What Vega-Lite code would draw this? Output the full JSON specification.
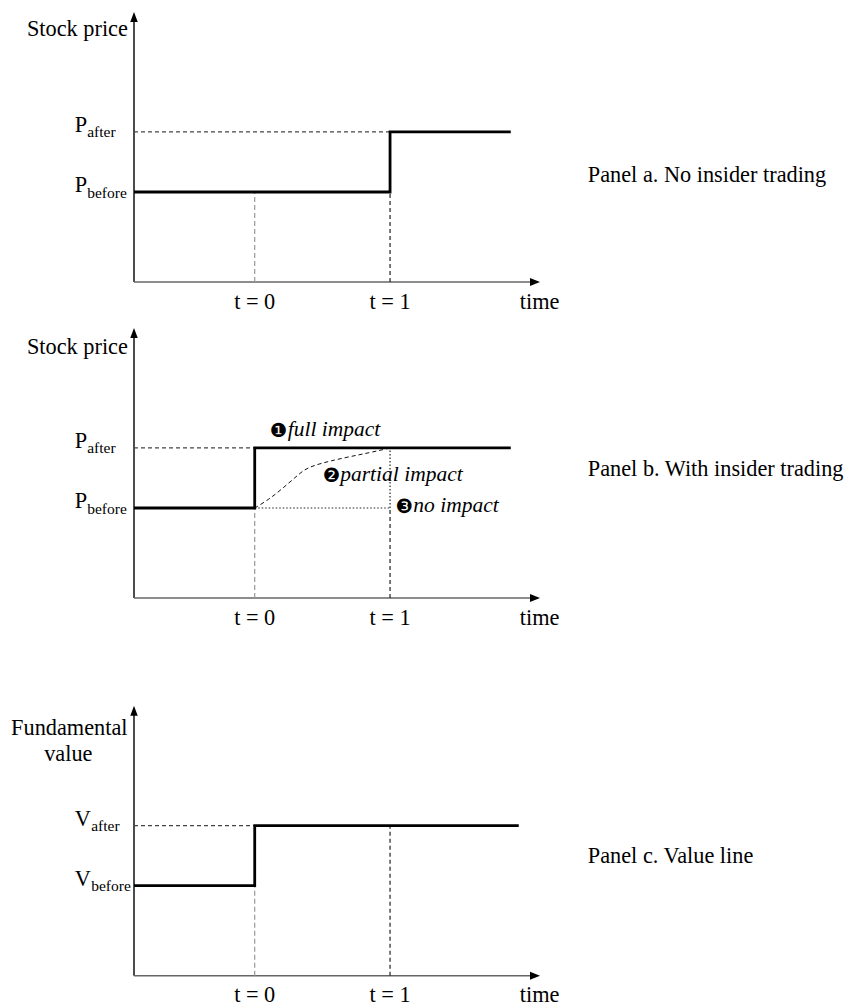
{
  "$schema": "https://vega.github.io/schema/vega-lite/v6.json",
  "background": "white",
  "padding": {"top": 12, "left": 11, "right": 0, "bottom": 0},
  "config": {
    "font": "Liberation Serif",
    "view": {"stroke": null},
    "text": {"font": "Liberation Serif", "fontSize": 22.3, "color": "black"}
  },
  "datasets": {
    "segments": [
      {"panel": "a", "role": "y axis", "x": -0.892, "y": 0, "x2": -0.892, "y2": 2.95},
      {"panel": "a", "role": "x axis", "x": -0.892, "y": 0, "x2": 2.07, "y2": 0},
      {"panel": "a", "role": "level guide", "x": -0.892, "y": 1.667, "x2": 1, "y2": 1.667},
      {"panel": "a", "role": "t0 guide", "x": 0, "y": 0, "x2": 0, "y2": 1},
      {"panel": "a", "role": "t1 guide", "x": 1, "y": 0, "x2": 1, "y2": 1},
      {"panel": "b", "role": "y axis", "x": -0.892, "y": 0, "x2": -0.892, "y2": 2.95},
      {"panel": "b", "role": "x axis", "x": -0.892, "y": 0, "x2": 2.07, "y2": 0},
      {"panel": "b", "role": "level guide", "x": -0.892, "y": 1.667, "x2": 0, "y2": 1.667},
      {"panel": "b", "role": "t0 guide", "x": 0, "y": 0, "x2": 0, "y2": 1},
      {"panel": "b", "role": "t1 guide", "x": 1, "y": 0, "x2": 1, "y2": 1},
      {"panel": "b", "role": "no impact", "x": 1, "y": 1, "x2": 1, "y2": 1.667},
      {"panel": "b", "role": "no impact", "x": 0, "y": 1, "x2": 1, "y2": 1},
      {"panel": "c", "role": "y axis", "x": -0.892, "y": 0, "x2": -0.892, "y2": 2.95},
      {"panel": "c", "role": "x axis", "x": -0.892, "y": 0, "x2": 2.07, "y2": 0},
      {"panel": "c", "role": "level guide", "x": -0.892, "y": 1.667, "x2": 0, "y2": 1.667},
      {"panel": "c", "role": "t0 guide", "x": 0, "y": 0, "x2": 0, "y2": 1},
      {"panel": "c", "role": "t1 guide", "x": 1, "y": 0, "x2": 1, "y2": 1.667}
    ],
    "steps": [
      {"panel": "a", "i": 1, "x": -0.892, "y": 1},
      {"panel": "a", "i": 2, "x": 1, "y": 1},
      {"panel": "a", "i": 3, "x": 1, "y": 1.667},
      {"panel": "a", "i": 4, "x": 1.892, "y": 1.667},
      {"panel": "b", "i": 1, "x": -0.892, "y": 1},
      {"panel": "b", "i": 2, "x": 0, "y": 1},
      {"panel": "b", "i": 3, "x": 0, "y": 1.667},
      {"panel": "b", "i": 4, "x": 1.892, "y": 1.667},
      {"panel": "c", "i": 1, "x": -0.892, "y": 1},
      {"panel": "c", "i": 2, "x": 0, "y": 1},
      {"panel": "c", "i": 3, "x": 0, "y": 1.667},
      {"panel": "c", "i": 4, "x": 1.951, "y": 1.667}
    ],
    "curve": [
      {"x": 0, "y": 1.0},
      {"x": 0.1, "y": 1.09},
      {"x": 0.2, "y": 1.21},
      {"x": 0.3, "y": 1.34},
      {"x": 0.36, "y": 1.42},
      {"x": 0.43, "y": 1.47},
      {"x": 0.55, "y": 1.52},
      {"x": 0.7, "y": 1.57},
      {"x": 0.85, "y": 1.615},
      {"x": 1.0, "y": 1.667}
    ],
    "arrows": [
      {"panel": "a", "dir": "up", "x": -0.892, "y": 3},
      {"panel": "a", "dir": "right", "x": 2.108, "y": 0},
      {"panel": "b", "dir": "up", "x": -0.892, "y": 3},
      {"panel": "b", "dir": "right", "x": 2.108, "y": 0},
      {"panel": "c", "dir": "up", "x": -0.892, "y": 3},
      {"panel": "c", "dir": "right", "x": 2.108, "y": 0}
    ],
    "ticks": [
      {"panel": "a", "x": 0, "y": 0, "label": "t = 0"},
      {"panel": "a", "x": 1, "y": 0, "label": "t = 1"},
      {"panel": "a", "x": 2.105, "y": 0, "label": "time"},
      {"panel": "b", "x": 0, "y": 0, "label": "t = 0"},
      {"panel": "b", "x": 1, "y": 0, "label": "t = 1"},
      {"panel": "b", "x": 2.105, "y": 0, "label": "time"},
      {"panel": "c", "x": 0, "y": 0, "label": "t = 0"},
      {"panel": "c", "x": 1, "y": 0, "label": "t = 1"},
      {"panel": "c", "x": 2.105, "y": 0, "label": "time"}
    ],
    "levels": [
      {"panel": "a", "x": -1.33, "y": 1, "letter": "P", "sub": "before"},
      {"panel": "a", "x": -1.33, "y": 1.667, "letter": "P", "sub": "after"},
      {"panel": "b", "x": -1.33, "y": 1, "letter": "P", "sub": "before"},
      {"panel": "b", "x": -1.33, "y": 1.667, "letter": "P", "sub": "after"},
      {"panel": "c", "x": -1.33, "y": 1, "letter": "V", "sub": "before"},
      {"panel": "c", "x": -1.33, "y": 1.667, "letter": "V", "sub": "after"}
    ],
    "titles": [
      {"panel": "a", "x": -1.31, "y": 2.737, "text": "Stock price"},
      {"panel": "b", "x": -1.31, "y": 2.711, "text": "Stock price"},
      {"panel": "c", "x": -1.37, "y": 2.678, "text": "Fundamental"},
      {"panel": "c", "x": -1.377, "y": 2.39, "text": "value"}
    ],
    "notes": [
      {"n": "❶", "bx": 0.112, "tx": 0.244, "y": 1.796, "text": "full impact"},
      {"n": "❷", "bx": 0.503, "tx": 0.632, "y": 1.303, "text": "partial impact"},
      {"n": "❸", "bx": 1.04, "tx": 1.172, "y": 0.953, "text": "no impact"}
    ],
    "captions": [
      {"panel": "a", "x": 2.461, "y": 1.114, "text": "Panel a. No insider trading"},
      {"panel": "b", "x": 2.461, "y": 1.359, "text": "Panel b. With insider trading"},
      {"panel": "c", "x": 2.461, "y": 1.256, "text": "Panel c. Value line"}
    ]
  },
  "spacing": 46,
  "bounds": "flush",
  "vconcat": [
    {
      "width": 406,
      "height": 270,
      "encoding": {
        "x": {"field": "x", "type": "quantitative", "scale": {"domain": [-0.892, 2.108], "nice": false, "zero": false}, "axis": null},
        "y": {"field": "y", "type": "quantitative", "scale": {"domain": [0, 3], "nice": false, "zero": false}, "axis": null}
      },
      "layer": [
        {
          "data": {"name": "segments"},
          "transform": [{"filter": "datum.panel == 'a' && (datum.role == 'y axis' || datum.role == 'x axis')"}],
          "mark": {"type": "rule", "strokeWidth": 1.4},
          "encoding": {
            "x2": {"field": "x2"}, "y2": {"field": "y2"},
            "color": {"field": "role", "type": "nominal", "scale": {"domain": ["y axis", "x axis", "level guide", "t0 guide", "t1 guide", "no impact"], "range": ["#000000", "#666666", "#444444", "#999999", "#222222", "#222222"]}, "legend": null}
          }
        },
        {
          "data": {"name": "segments"},
          "transform": [{"filter": "datum.panel == 'a' && datum.role != 'y axis' && datum.role != 'x axis'"}],
          "mark": {"type": "rule", "strokeWidth": 1.2},
          "encoding": {
            "x2": {"field": "x2"}, "y2": {"field": "y2"},
            "color": {"field": "role", "type": "nominal", "scale": {"domain": ["y axis", "x axis", "level guide", "t0 guide", "t1 guide", "no impact"], "range": ["#000000", "#666666", "#444444", "#999999", "#222222", "#222222"]}, "legend": null},
            "strokeDash": {"field": "role", "type": "nominal", "scale": {"domain": ["level guide", "t0 guide", "t1 guide", "no impact"], "range": [[4, 3], [5, 3], [4, 3], [1.5, 2]]}, "legend": null}
          }
        },
        {
          "data": {"name": "steps"},
          "transform": [{"filter": "datum.panel == 'a'"}],
          "mark": {"type": "line", "color": "black", "strokeWidth": 2.8, "strokeJoin": "miter", "strokeCap": "butt"},
          "encoding": {"order": {"field": "i", "type": "quantitative"}}
        },
        {
          "data": {"name": "arrows"},
          "transform": [{"filter": "datum.panel == 'a'"}],
          "mark": {"type": "point", "filled": true, "color": "black", "size": 100, "opacity": 1},
          "encoding": {
            "shape": {"field": "dir", "type": "nominal", "scale": {"domain": ["up", "right"], "range": ["M0,0L0.75,2L-0.75,2Z", "M0,0L-2,-0.8L-2,0.8Z"]}, "legend": null}
          }
        },
        {
          "data": {"name": "ticks"},
          "transform": [{"filter": "datum.panel == 'a'"}],
          "mark": {"type": "text", "font": "Liberation Serif", "align": "center", "baseline": "middle", "dy": 19.5},
          "encoding": {"text": {"field": "label"}}
        },
        {
          "data": {"name": "levels"},
          "transform": [{"filter": "datum.panel == 'a'"}],
          "mark": {"type": "text", "font": "Liberation Serif", "align": "left", "baseline": "alphabetic", "dy": 0},
          "encoding": {"text": {"field": "letter"}}
        },
        {
          "data": {"name": "levels"},
          "transform": [{"filter": "datum.panel == 'a'"}],
          "mark": {"type": "text", "font": "Liberation Serif", "align": "left", "baseline": "alphabetic", "dy": 5.5, "dx": 12.5, "fontSize": 15.5},
          "encoding": {"text": {"field": "sub"}}
        },
        {
          "data": {"name": "titles"},
          "transform": [{"filter": "datum.panel == 'a'"}],
          "mark": {"type": "text", "font": "Liberation Serif", "align": "center", "baseline": "alphabetic"},
          "encoding": {"text": {"field": "text"}}
        },
        {
          "data": {"name": "captions"},
          "transform": [{"filter": "datum.panel == 'a'"}],
          "mark": {"type": "text", "font": "Liberation Serif", "align": "left", "baseline": "alphabetic"},
          "encoding": {"text": {"field": "text"}}
        }
      ]
    },
    {
      "width": 406,
      "height": 270,
      "encoding": {
        "x": {"field": "x", "type": "quantitative", "scale": {"domain": [-0.892, 2.108], "nice": false, "zero": false}, "axis": null},
        "y": {"field": "y", "type": "quantitative", "scale": {"domain": [0, 3], "nice": false, "zero": false}, "axis": null}
      },
      "layer": [
        {
          "data": {"name": "segments"},
          "transform": [{"filter": "datum.panel == 'b' && (datum.role == 'y axis' || datum.role == 'x axis')"}],
          "mark": {"type": "rule", "strokeWidth": 1.4},
          "encoding": {
            "x2": {"field": "x2"}, "y2": {"field": "y2"},
            "color": {"field": "role", "type": "nominal", "scale": {"domain": ["y axis", "x axis", "level guide", "t0 guide", "t1 guide", "no impact"], "range": ["#000000", "#666666", "#444444", "#999999", "#222222", "#222222"]}, "legend": null}
          }
        },
        {
          "data": {"name": "segments"},
          "transform": [{"filter": "datum.panel == 'b' && datum.role != 'y axis' && datum.role != 'x axis'"}],
          "mark": {"type": "rule", "strokeWidth": 1.2},
          "encoding": {
            "x2": {"field": "x2"}, "y2": {"field": "y2"},
            "color": {"field": "role", "type": "nominal", "scale": {"domain": ["y axis", "x axis", "level guide", "t0 guide", "t1 guide", "no impact"], "range": ["#000000", "#666666", "#444444", "#999999", "#222222", "#222222"]}, "legend": null},
            "strokeDash": {"field": "role", "type": "nominal", "scale": {"domain": ["level guide", "t0 guide", "t1 guide", "no impact"], "range": [[4, 3], [5, 3], [4, 3], [1.5, 2]]}, "legend": null}
          }
        },
        {
          "data": {"name": "curve"},
          "mark": {"type": "line", "color": "#111111", "strokeWidth": 1, "strokeDash": [4, 3], "interpolate": "basis"},
          "encoding": {}
        },
        {
          "data": {"name": "steps"},
          "transform": [{"filter": "datum.panel == 'b'"}],
          "mark": {"type": "line", "color": "black", "strokeWidth": 2.8, "strokeJoin": "miter", "strokeCap": "butt"},
          "encoding": {"order": {"field": "i", "type": "quantitative"}}
        },
        {
          "data": {"name": "arrows"},
          "transform": [{"filter": "datum.panel == 'b'"}],
          "mark": {"type": "point", "filled": true, "color": "black", "size": 100, "opacity": 1},
          "encoding": {
            "shape": {"field": "dir", "type": "nominal", "scale": {"domain": ["up", "right"], "range": ["M0,0L0.75,2L-0.75,2Z", "M0,0L-2,-0.8L-2,0.8Z"]}, "legend": null}
          }
        },
        {
          "data": {"name": "ticks"},
          "transform": [{"filter": "datum.panel == 'b'"}],
          "mark": {"type": "text", "font": "Liberation Serif", "align": "center", "baseline": "middle", "dy": 19.5},
          "encoding": {"text": {"field": "label"}}
        },
        {
          "data": {"name": "levels"},
          "transform": [{"filter": "datum.panel == 'b'"}],
          "mark": {"type": "text", "font": "Liberation Serif", "align": "left", "baseline": "alphabetic", "dy": 0},
          "encoding": {"text": {"field": "letter"}}
        },
        {
          "data": {"name": "levels"},
          "transform": [{"filter": "datum.panel == 'b'"}],
          "mark": {"type": "text", "font": "Liberation Serif", "align": "left", "baseline": "alphabetic", "dy": 5.5, "dx": 12.5, "fontSize": 15.5},
          "encoding": {"text": {"field": "sub"}}
        },
        {
          "data": {"name": "titles"},
          "transform": [{"filter": "datum.panel == 'b'"}],
          "mark": {"type": "text", "font": "Liberation Serif", "align": "center", "baseline": "alphabetic"},
          "encoding": {"text": {"field": "text"}}
        },
        {
          "data": {"name": "notes"},
          "mark": {"type": "text", "align": "left", "baseline": "alphabetic", "font": "DejaVu Sans", "fontSize": 19.5, "dy": 1},
          "encoding": {"x": {"field": "bx", "type": "quantitative"}, "text": {"field": "n"}}
        },
        {
          "data": {"name": "notes"},
          "mark": {"type": "text", "font": "Liberation Serif", "align": "left", "baseline": "alphabetic", "fontStyle": "italic", "fontSize": 21.5},
          "encoding": {"x": {"field": "tx", "type": "quantitative"}, "text": {"field": "text"}}
        },
        {
          "data": {"name": "captions"},
          "transform": [{"filter": "datum.panel == 'b'"}],
          "mark": {"type": "text", "font": "Liberation Serif", "align": "left", "baseline": "alphabetic"},
          "encoding": {"text": {"field": "text"}}
        }
      ]
    },
    {
      "width": 406,
      "height": 331.7,
      "encoding": {
        "x": {"field": "x", "type": "quantitative", "scale": {"domain": [-0.892, 2.108], "nice": false, "zero": false}, "axis": null},
        "y": {"field": "y", "type": "quantitative", "scale": {"domain": [0, 3.6856], "nice": false, "zero": false}, "axis": null}
      },
      "layer": [
        {
          "data": {"name": "segments"},
          "transform": [{"filter": "datum.panel == 'c' && (datum.role == 'y axis' || datum.role == 'x axis')"}],
          "mark": {"type": "rule", "strokeWidth": 1.4},
          "encoding": {
            "x2": {"field": "x2"}, "y2": {"field": "y2"},
            "color": {"field": "role", "type": "nominal", "scale": {"domain": ["y axis", "x axis", "level guide", "t0 guide", "t1 guide", "no impact"], "range": ["#000000", "#666666", "#444444", "#999999", "#222222", "#222222"]}, "legend": null}
          }
        },
        {
          "data": {"name": "segments"},
          "transform": [{"filter": "datum.panel == 'c' && datum.role != 'y axis' && datum.role != 'x axis'"}],
          "mark": {"type": "rule", "strokeWidth": 1.2},
          "encoding": {
            "x2": {"field": "x2"}, "y2": {"field": "y2"},
            "color": {"field": "role", "type": "nominal", "scale": {"domain": ["y axis", "x axis", "level guide", "t0 guide", "t1 guide", "no impact"], "range": ["#000000", "#666666", "#444444", "#999999", "#222222", "#222222"]}, "legend": null},
            "strokeDash": {"field": "role", "type": "nominal", "scale": {"domain": ["level guide", "t0 guide", "t1 guide", "no impact"], "range": [[4, 3], [5, 3], [4, 3], [1.5, 2]]}, "legend": null}
          }
        },
        {
          "data": {"name": "steps"},
          "transform": [{"filter": "datum.panel == 'c'"}],
          "mark": {"type": "line", "color": "black", "strokeWidth": 2.8, "strokeJoin": "miter", "strokeCap": "butt"},
          "encoding": {"order": {"field": "i", "type": "quantitative"}}
        },
        {
          "data": {"name": "arrows"},
          "transform": [{"filter": "datum.panel == 'c'"}],
          "mark": {"type": "point", "filled": true, "color": "black", "size": 100, "opacity": 1},
          "encoding": {
            "shape": {"field": "dir", "type": "nominal", "scale": {"domain": ["up", "right"], "range": ["M0,0L0.75,2L-0.75,2Z", "M0,0L-2,-0.8L-2,0.8Z"]}, "legend": null}
          }
        },
        {
          "data": {"name": "ticks"},
          "transform": [{"filter": "datum.panel == 'c'"}],
          "mark": {"type": "text", "font": "Liberation Serif", "align": "center", "baseline": "middle", "dy": 19.5},
          "encoding": {"text": {"field": "label"}}
        },
        {
          "data": {"name": "levels"},
          "transform": [{"filter": "datum.panel == 'c'"}],
          "mark": {"type": "text", "font": "Liberation Serif", "align": "left", "baseline": "alphabetic", "dy": 0},
          "encoding": {"text": {"field": "letter"}}
        },
        {
          "data": {"name": "levels"},
          "transform": [{"filter": "datum.panel == 'c'"}],
          "mark": {"type": "text", "font": "Liberation Serif", "align": "left", "baseline": "alphabetic", "dy": 5.5, "dx": 16.5, "fontSize": 15.5},
          "encoding": {"text": {"field": "sub"}}
        },
        {
          "data": {"name": "titles"},
          "transform": [{"filter": "datum.panel == 'c'"}],
          "mark": {"type": "text", "font": "Liberation Serif", "align": "center", "baseline": "alphabetic"},
          "encoding": {"text": {"field": "text"}}
        },
        {
          "data": {"name": "captions"},
          "transform": [{"filter": "datum.panel == 'c'"}],
          "mark": {"type": "text", "font": "Liberation Serif", "align": "left", "baseline": "alphabetic"},
          "encoding": {"text": {"field": "text"}}
        }
      ]
    }
  ]
}
